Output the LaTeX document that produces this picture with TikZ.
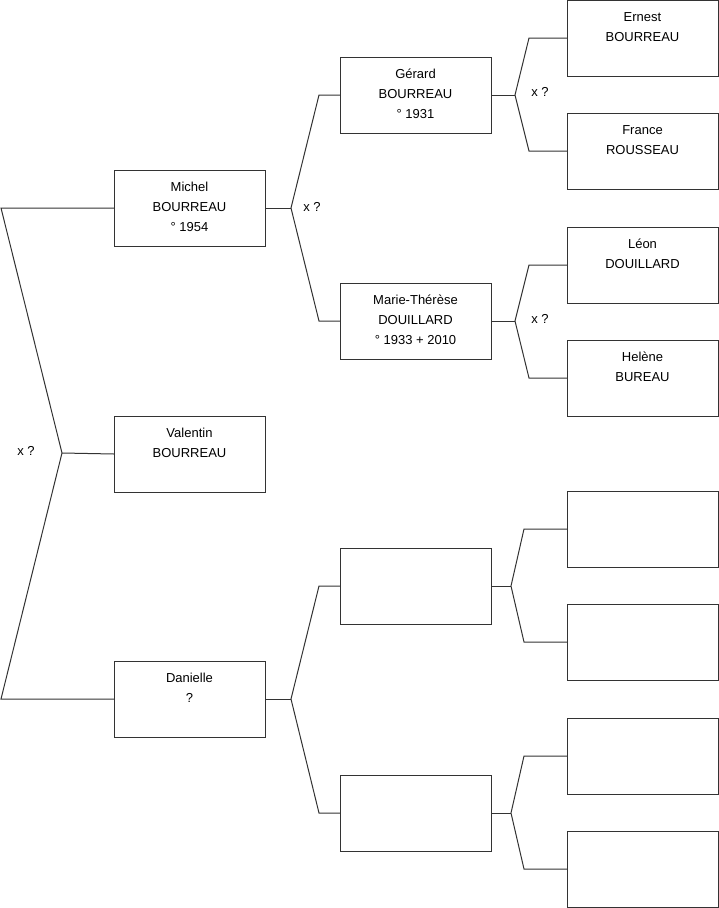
\documentclass[tikz,border=0pt]{standalone}
\usepackage{fontspec}
\setmainfont{Liberation Sans}
\begin{document}
\begin{tikzpicture}[x=1pt,y=-1pt,
  box/.style={draw=black!80, line width=1pt, minimum width=151pt, minimum height=76pt, inner sep=0pt, outer sep=0pt},
  txt/.style={anchor=north, align=center, inner sep=0pt, font=\fontsize{13}{20}\selectfont},
  lbl/.style={inner sep=0pt, font=\fontsize{13}{14}\selectfont},
  conn/.style={draw=black!80, line width=1pt}]
\useasboundingbox (0,0) rectangle (719,908);
% generation 1
\node[box] (michel) at (189.5,208) {};
\node[box] (valentin) at (189.5,454) {};
\node[box] (danielle) at (189.5,699) {};
% generation 2
\node[box] (gerard) at (415.5,95) {};
\node[box] (marie) at (415.5,321) {};
\node[box] (e21) at (415.5,586) {};
\node[box] (e22) at (415.5,813) {};
% generation 3
\node[box] (ernest) at (642.5,38) {};
\node[box] (france) at (642.5,151) {};
\node[box] (leon) at (642.5,265) {};
\node[box] (helene) at (642.5,378) {};
\node[box] (e31) at (642.5,529) {};
\node[box] (e32) at (642.5,642) {};
\node[box] (e33) at (642.5,756) {};
\node[box] (e34) at (642.5,869) {};
% texts
\newcommand{\fl}{\rule{0pt}{10pt}}
\node[txt] (tmichel) at ([yshift=-11.5pt]michel.north) {\fl Michel\\BOURREAU\\° 1954};
\node[txt] (tvalentin) at ([yshift=-11.5pt]valentin.north) {\fl Valentin\\BOURREAU};
\node[txt] (tdanielle) at ([yshift=-11.5pt]danielle.north) {\fl Danielle\\?};
\node[txt] (tgerard) at ([yshift=-11.5pt]gerard.north) {\fl Gérard\\BOURREAU\\° 1931};
\node[txt] (tmarie) at ([yshift=-11.5pt]marie.north) {\fl Marie-Thérèse\\DOUILLARD\\° 1933 + 2010};
\node[txt] (ternest) at ([yshift=-11.5pt]ernest.north) {\fl Ernest\\BOURREAU};
\node[txt] (tfrance) at ([yshift=-11.5pt]france.north) {\fl France\\ROUSSEAU};
\node[txt] (tleon) at ([yshift=-11.5pt]leon.north) {\fl Léon\\DOUILLARD};
\node[txt] (thelene) at ([yshift=-11.5pt]helene.north) {\fl Helène\\BUREAU};
% junction coordinates
\coordinate (j0) at (62,453);
\coordinate (j1) at (291,208);
\coordinate (j2) at (291,699);
\coordinate (j3) at (515,95);
\coordinate (j4) at (515,321);
\coordinate (j5) at (511,586);
\coordinate (j6) at (511,813);
% connectors
\draw[conn] (valentin.west) -- (j0);
\draw[conn] (michel.west) -- ([xshift=-113pt]michel.west) -- (j0) -- ([xshift=-113pt]danielle.west) -- (danielle.west);
\draw[conn] (michel.east) -- (j1);
\draw[conn] (gerard.west) -- ([xshift=-21pt]gerard.west) -- (j1) -- ([xshift=-21pt]marie.west) -- (marie.west);
\draw[conn] (danielle.east) -- (j2);
\draw[conn] (e21.west) -- ([xshift=-21pt]e21.west) -- (j2) -- ([xshift=-21pt]e22.west) -- (e22.west);
\draw[conn] (gerard.east) -- (j3);
\draw[conn] (ernest.west) -- ([xshift=-38pt]ernest.west) -- (j3) -- ([xshift=-38pt]france.west) -- (france.west);
\draw[conn] (marie.east) -- (j4);
\draw[conn] (leon.west) -- ([xshift=-38pt]leon.west) -- (j4) -- ([xshift=-38pt]helene.west) -- (helene.west);
\draw[conn] (e21.east) -- (j5);
\draw[conn] (e31.west) -- ([xshift=-43pt]e31.west) -- (j5) -- ([xshift=-43pt]e32.west) -- (e32.west);
\draw[conn] (e22.east) -- (j6);
\draw[conn] (e33.west) -- ([xshift=-43pt]e33.west) -- (j6) -- ([xshift=-43pt]e34.west) -- (e34.west);
% labels
\node[lbl] (l0) at (26,451) {x ?};
\node[lbl] (l1) at (312,207) {x ?};
\node[lbl] (l2) at (540,92) {x ?};
\node[lbl] (l3) at (540,319) {x ?};
\end{tikzpicture}
\end{document}
